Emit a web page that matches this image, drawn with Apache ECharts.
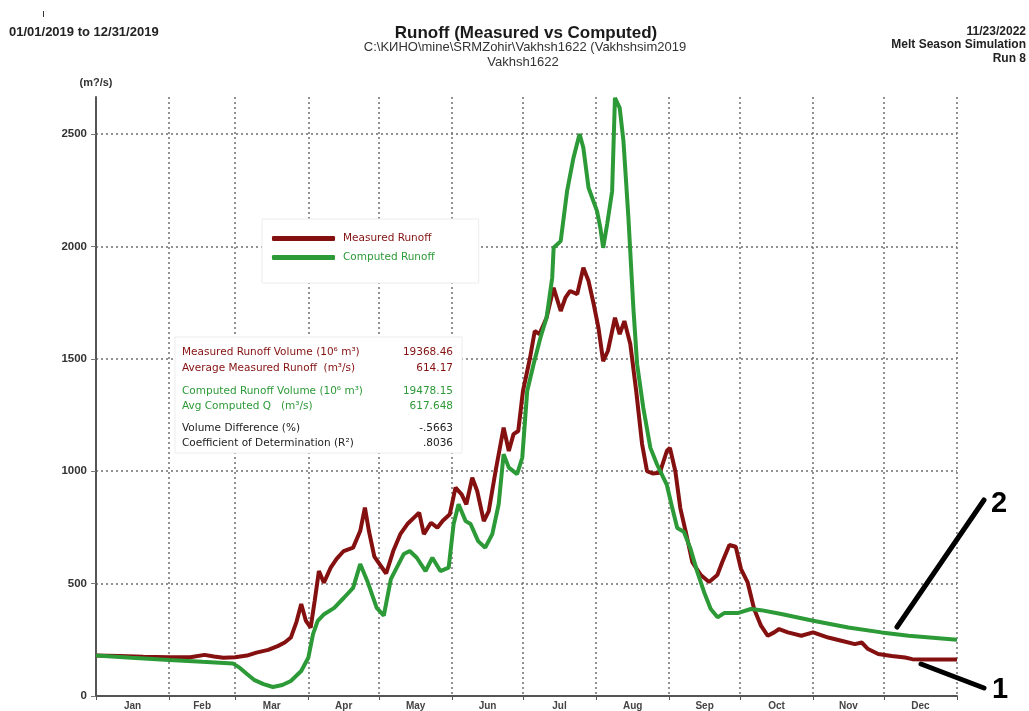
<!DOCTYPE html>
<html>
<head>
<meta charset="utf-8">
<script src="https://cdn.jsdelivr.net/npm/echarts@6/dist/echarts.min.js"></script>
<style>
html,body{margin:0;padding:0;background:#fff;}
#container1{width:1029px;height:711px;}
</style>
</head>
<body>
<div id="container1"></div>
<script>
var dom1 = document.getElementById("container1");
var myChart1 = echarts.init(dom1);

// day of year / runoff (m3/s)
var measuredDays = [0,10,20,31,40,46,50,54,59,64,68,73,77,80,82.6,85,87,89,91,92.7,94.5,96.6,99.5,102,105,109,112,114,115.7,118,121,123,126,129,132,137,139,142,144.7,147,150,152.4,155,157,159.5,161.6,164.4,166.5,169.4,172.8,175,177,179,181,184,186,188,191,194,197,199,201,204,206.6,208.8,211,213,215,217,220,222,224,226.5,229,231.5,233.6,236,239,242,243.3,245.6,247.7,250,252.8,256.4,259.9,263.4,265.5,268.5,271.2,273.4,276.2,279,281.9,284.8,287.5,289.6,293.3,299,304,310.4,316,321.7,324.6,327.3,331.6,337.3,343,346,352,365];
var measuredQ = [180,178,175,172,172,183,176,170,172,180,193,205,222,238,260,330,409,334,304,423,556,504,571,610,645,660,734,838,734,620,575,545,645,720,765,816,720,771,749,780,809,927,897,853,971,912,778,823,1001,1194,1090,1165,1179,1357,1505,1624,1610,1683,1816,1713,1772,1802,1788,1905,1846,1743,1638,1490,1535,1683,1610,1668,1566,1357,1121,1000,990,993,1090,1104,1000,836,731,596,538,507,538,596,672,664,566,507,387,313,268,283,298,283,268,283,260,246,231,238,209,187,178,171,164,162,162];

var computedDays = [0,15,31,45,58,61,64,67,71,75,79,82.6,87,90,92,94,96.7,101,105,109,112,115,119,122,125,130.5,133,136,139.7,142.6,146,149.5,151.6,153.7,156.7,158.8,162,165,168,170.7,172.8,175,178.5,180.7,182.8,185.5,188.4,191,193.4,194,197,199.7,202.4,205,206.6,208.8,212.4,213.8,215,216.7,218.8,220,222,223.6,225.7,227.8,229.4,232,235,237.8,239.2,242,244.3,246.4,249.2,252,254.9,257.8,260.6,263.5,266.3,272,277.6,281.9,290.5,304,318.9,333,344.5,365];
var computedQ = [180,170,160,152,145,125,98,72,53,40,49,67,111,170,275,334,364,392,436,481,587,512,392,358,520,632,645,615,556,615,556,571,765,853,778,765,689,660,720,853,1076,1016,987,1060,1357,1476,1594,1683,1861,1994,2024,2246,2394,2500,2439,2261,2157,2083,1994,2100,2246,2661,2617,2469,2128,1727,1476,1283,1105,1031,1000,939,836,747,731,656,552,462,387,350,369,369,387,382,365,335,305,283,268,250];

var monthNames = ['Jan','Feb','Mar','Apr','May','Jun','Jul','Aug','Sep','Oct','Nov','Dec'];
var monthStarts = [0,31,59,90,120,151,181,212,243,273,304,334,365];
var yTicks = [0,500,1000,1500,2000,2500];

var statLabels = ['Measured Runoff Volume (10\u2076 m\u00b3)','Average Measured Runoff  (m\u00b3/s)','Computed Runoff Volume (10\u2076 m\u00b3)','Avg Computed Q   (m\u00b3/s)','Volume Difference (%)','Coefficient of Determination (R\u00b2)'];
var statValues = ['19368.46','614.17','19478.15','617.648','-.5663','.8036'];

var RED = '#841010';
var GREEN = '#2d9a38';
var statColors = [RED,RED,GREEN,GREEN,'#222','#222'];
var statRowsY = [352,368,391,406,428,443];

var monthMids = [];
for(var i=0;i<12;i++){
    monthMids.push((monthStarts[i]+monthStarts[i+1])/2);
}
function zip(a,b){
    var out=[];
    for(var i=0;i<a.length;i++){ out.push([a[i],b[i]]); }
    return out;
}

var hdrFont = 'Liberation Sans, Arial, sans-serif';
var boxFont = 'DejaVu Sans, sans-serif';

var graphics = [
    {type:'rect', shape:{x:43,y:11,width:1,height:6}, style:{fill:'#333'}},
    {type:'text', x:9, y:32, style:{text:'01/01/2019 to 12/31/2019', font:'bold 13px '+hdrFont, fill:'#222', textVerticalAlign:'middle'}},
    {type:'text', x:526, y:33, style:{text:'Runoff (Measured vs Computed)', font:'bold 17px '+hdrFont, fill:'#1a1a1a', textAlign:'center', textVerticalAlign:'middle'}},
    {type:'text', x:525, y:47, style:{text:'C:\\K\u0418HO\\mine\\SRMZohir\\Vakhsh1622 (Vakhshsim2019', font:'13px '+hdrFont, fill:'#333', textAlign:'center', textVerticalAlign:'middle'}},
    {type:'text', x:523, y:62, style:{text:'Vakhsh1622', font:'13px '+hdrFont, fill:'#333', textAlign:'center', textVerticalAlign:'middle'}},
    {type:'text', x:1026, y:32, style:{text:'11/23/2022', font:'bold 12px '+hdrFont, fill:'#222', textAlign:'right', textVerticalAlign:'middle'}},
    {type:'text', x:1026, y:45, style:{text:'Melt Season Simulation', font:'bold 12px '+hdrFont, fill:'#222', textAlign:'right', textVerticalAlign:'middle'}},
    {type:'text', x:1026, y:59, style:{text:'Run 8', font:'bold 12px '+hdrFont, fill:'#222', textAlign:'right', textVerticalAlign:'middle'}},
    // stats box
    {type:'rect', z:50, shape:{x:175,y:337,width:287,height:116}, style:{fill:'#fff', stroke:'#ececec', lineWidth:1}},
    // annotation arrows
    {type:'line', z:60, shape:{x1:897,y1:627,x2:984,y2:500}, style:{stroke:'#000', lineWidth:5, lineCap:'round'}},
    {type:'line', z:60, shape:{x1:921,y1:664,x2:984,y2:688}, style:{stroke:'#000', lineWidth:5, lineCap:'round'}},
    {type:'text', z:60, x:999, y:504, style:{text:'2', font:'bold 29px '+hdrFont, fill:'#000', textAlign:'center', textVerticalAlign:'middle'}},
    {type:'text', z:60, x:1000, y:690, style:{text:'1', font:'bold 29px '+hdrFont, fill:'#000', textAlign:'center', textVerticalAlign:'middle'}}
];
for(var j=0;j<statLabels.length;j++){
    graphics.push({type:'text', z:51, x:182, y:statRowsY[j], style:{text:statLabels[j], font:'10.5px '+boxFont, fill:statColors[j], textVerticalAlign:'middle'}});
    graphics.push({type:'text', z:51, x:453, y:statRowsY[j], style:{text:statValues[j], font:'10.5px '+boxFont, fill:statColors[j], textAlign:'right', textVerticalAlign:'middle'}});
}

var gridLine = {show:true, lineStyle:{color:'#6f6f6f', type:[2,3], width:1.5}};

var option1 = {
    backgroundColor:'#fff',
    animation:false,
    grid:{left:96, right:72, top:97, bottom:15},
    legend:{
        orient:'vertical',
        left:262, top:219,
        padding:[14,44,20,10],
        backgroundColor:'#fff',
        borderColor:'#ececec',
        borderWidth:1,
        itemWidth:63, itemHeight:5, itemGap:8,
        icon:'roundRect',
        z:50,
        textStyle:{fontFamily:boxFont, fontSize:10.5, padding:[0,0,0,3]},
        data:[
            {name:'Measured Runoff', textStyle:{color:RED}},
            {name:'Computed Runoff', textStyle:{color:GREEN}}
        ]
    },
    xAxis:{
        type:'value', min:0, max:365,
        axisLine:{show:true, lineStyle:{color:'#555', width:2}},
        axisTick:{show:true, length:4, customValues:monthStarts, lineStyle:{color:'#555'}},
        axisLabel:{
            customValues:monthMids, margin:5,
            color:'#444', fontSize:10, fontWeight:'bold', fontFamily:hdrFont,
            formatter:function(v){
                var k = monthMids.indexOf(v);
                return k>=0 ? monthNames[k] : '';
            }
        },
        splitLine:gridLine
    },
    yAxis:{
        type:'value', min:0, max:2665,
        name:'(m?/s)', nameLocation:'end', nameGap:9,
        nameTextStyle:{color:'#333', fontSize:11, fontWeight:'bold', fontFamily:hdrFont, align:'center'},
        axisLine:{show:true, lineStyle:{color:'#555', width:2}},
        axisTick:{show:true, length:5, customValues:yTicks, lineStyle:{color:'#777'}},
        axisLabel:{
            customValues:yTicks, margin:9, color:'#333', fontSize:11.5, fontWeight:'bold', fontFamily:hdrFont,
            formatter:function(v){ return String(v); }
        },
        splitLine:gridLine
    },
    graphic:graphics,
    series:[
        {
            name:'Measured Runoff', type:'line', symbol:'none',
            data:zip(measuredDays, measuredQ),
            itemStyle:{color:RED},
            lineStyle:{color:RED, width:4}
        },
        {
            name:'Computed Runoff', type:'line', symbol:'none',
            data:zip(computedDays, computedQ),
            itemStyle:{color:GREEN},
            lineStyle:{color:GREEN, width:4}
        }
    ]
};
myChart1.setOption(option1);
</script>
</body>
</html>
